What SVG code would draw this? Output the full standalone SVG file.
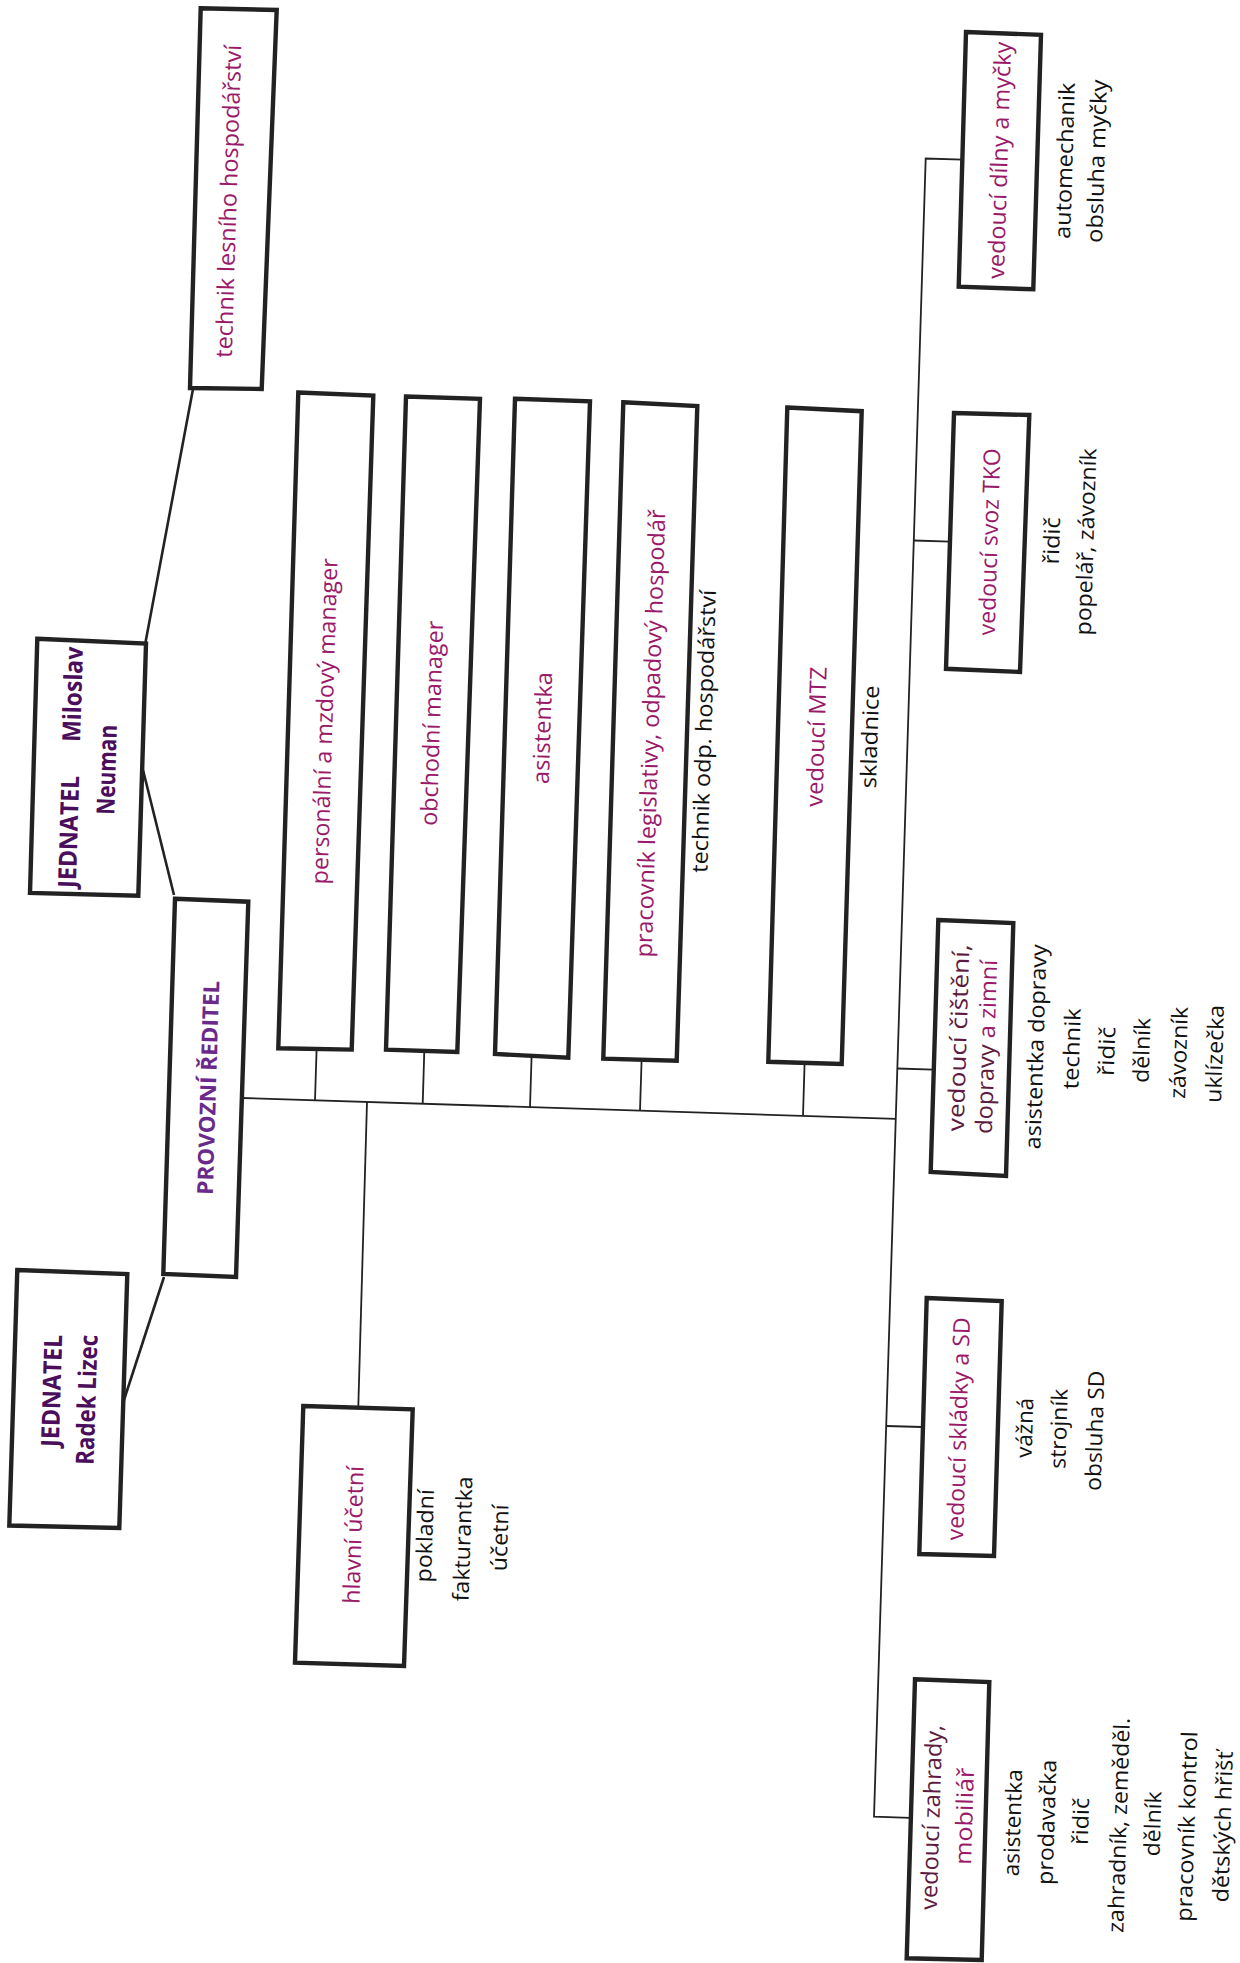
<svg xmlns="http://www.w3.org/2000/svg" width="1240" height="1963" viewBox="0 0 1240 1963">
<style>
.box{fill:#fff;stroke:#222;stroke-width:4.4;stroke-linejoin:miter}
.c{fill:none;stroke:#222;stroke-width:1.8}
.ct{fill:none;stroke:#222;stroke-width:2.6}
text{font-family:"Open Sans","Noto Sans","DejaVu Sans",sans-serif;text-anchor:middle}
.m{fill:#9a1a6a;font-size:23px}
.d{fill:#5e1b40}
.k{fill:#111;font-size:22px}
.j{fill:#4a0e5c;font-size:25px;font-weight:bold}
.p{fill:#6a2a8c;font-size:22px;font-weight:bold}
</style>
<rect x="0" y="0" width="1240" height="1963" fill="#fff"/>
<g id="connectors">
<line class="ct" x1="145" y1="645" x2="193" y2="389"/>
<line class="ct" x1="143" y1="770" x2="174" y2="895"/>
<line class="ct" x1="164" y1="1277" x2="123" y2="1403"/>
<line class="c" x1="242" y1="1098" x2="896" y2="1118.8"/>
<polyline class="c" points="963,159.6 925.7,158.5 874,1816.7 910,1817.8"/>
<line class="c" x1="913.8" y1="540.5" x2="950" y2="541.6"/>
<line class="c" x1="897.3" y1="1068.5" x2="933.3" y2="1069.6"/>
<line class="c" x1="886.2" y1="1426" x2="922" y2="1427"/>
<line class="c" x1="315" y1="1100.3" x2="316.6" y2="1049.2"/>
<line class="c" x1="422.7" y1="1103.7" x2="424.3" y2="1051"/>
<line class="c" x1="530" y1="1107.2" x2="531.6" y2="1056"/>
<line class="c" x1="640" y1="1110.7" x2="641.6" y2="1060"/>
<line class="c" x1="803" y1="1115.8" x2="804.6" y2="1063"/>
<line class="c" x1="367" y1="1102" x2="358.3" y2="1406.5"/>
</g>
<g id="n-technik-lesniho">
<polygon class="box" points="200.7,8.3 276.7,10 261.7,389 190,388"/>
<text class="m" transform="translate(236.5,201.5) rotate(-88.25)" textLength="313" lengthAdjust="spacingAndGlyphs">technik lesního hospodářství</text>
</g>
<g id="n-jednatel-neuman">
<polygon class="box" points="37.3,638.8 146,643.5 138.3,895.8 30,892.9"/>
<text class="j" transform="translate(77.5,832) rotate(-88.25)" textLength="112" lengthAdjust="spacingAndGlyphs">JEDNATEL</text>
<text class="j" transform="translate(81.5,694.5) rotate(-88.25)" textLength="95" lengthAdjust="spacingAndGlyphs">Miloslav</text>
<text class="j" transform="translate(115.5,770) rotate(-88.25)" textLength="90" lengthAdjust="spacingAndGlyphs">Neuman</text>
</g>
<g id="n-provozni">
<polygon class="box" points="175,898.8 248.3,901.7 236,1277 163.3,1274"/>
<text class="p" transform="translate(216,1088) rotate(-88.25)" textLength="214" lengthAdjust="spacingAndGlyphs">PROVOZNÍ ŘEDITEL</text>
</g>
<g id="n-jednatel-lizec">
<polygon class="box" points="17.3,1270 127.3,1274 119.3,1528 9.3,1525.5"/>
<text class="j" transform="translate(60.5,1391) rotate(-88.25)" textLength="112" lengthAdjust="spacingAndGlyphs">JEDNATEL</text>
<text class="j" transform="translate(95.5,1400) rotate(-88.25)" textLength="130" lengthAdjust="spacingAndGlyphs">Radek Lizec</text>
</g>
<g id="n-personalni">
<polygon class="box" points="298.3,392.5 373.3,395.6 351.7,1049.6 278.3,1048.3"/>
<text class="m" transform="translate(332.5,721.5) rotate(-88.25)" textLength="326" lengthAdjust="spacingAndGlyphs">personální a mzdový manager</text>
</g>
<g id="n-obchodni">
<polygon class="box" points="406,396.5 480,398.8 457.3,1052 386,1049.6"/>
<text class="m" transform="translate(440,723.5) rotate(-88.25)" textLength="205" lengthAdjust="spacingAndGlyphs">obchodní manager</text>
</g>
<g id="n-asistentka">
<polygon class="box" points="515,398.8 590,401.4 568.3,1057.7 495,1054"/>
<text class="m" transform="translate(550.5,728.2) rotate(-88.25)" textLength="112" lengthAdjust="spacingAndGlyphs">asistentka</text>
</g>
<g id="n-pracovnik-legislativy">
<polygon class="box" points="623.3,402.3 697.3,406 676.7,1060.8 603.3,1058.6"/>
<text class="m" transform="translate(658.5,733.7) rotate(-88.25)" textLength="448" lengthAdjust="spacingAndGlyphs">pracovník legislativy, odpadový hospodář</text>
<text class="k" transform="translate(711.5,731.5) rotate(-88.25)" textLength="283" lengthAdjust="spacingAndGlyphs">technik odp. hospodářství</text>
</g>
<g id="n-mtz">
<polygon class="box" points="787.3,407.5 861.7,411.2 841.7,1064 768.3,1061.8"/>
<text class="m" transform="translate(824.5,737) rotate(-88.25)" textLength="140" lengthAdjust="spacingAndGlyphs">vedoucí MTZ</text>
<text class="k" transform="translate(877.5,737) rotate(-88.25)" textLength="103" lengthAdjust="spacingAndGlyphs">skladnice</text>
</g>
<g id="n-hlavni-ucetni">
<polygon class="box" points="303.3,1406 412.7,1409.3 404,1666 295,1662.7"/>
<text class="m" transform="translate(361.5,1535) rotate(-88.25)" textLength="138" lengthAdjust="spacingAndGlyphs">hlavní účetní</text>
<text class="k" transform="translate(432.5,1536) rotate(-88.25)" textLength="93" lengthAdjust="spacingAndGlyphs">pokladní</text>
<text class="k" transform="translate(470.5,1539) rotate(-88.25)" textLength="125" lengthAdjust="spacingAndGlyphs">fakturantka</text>
<text class="k" transform="translate(507.5,1538) rotate(-88.25)" textLength="67" lengthAdjust="spacingAndGlyphs">účetní</text>
</g>
<g id="n-dilny">
<polygon class="box" points="966,32 1041,34.8 1033.3,289.3 958.7,286.6"/>
<text class="m" transform="translate(1007.5,160.5) rotate(-88.25)" textLength="237" lengthAdjust="spacingAndGlyphs">vedoucí dílny a myčky</text>
<text class="k" transform="translate(1072.5,161) rotate(-88.25)" textLength="156" lengthAdjust="spacingAndGlyphs">automechanik</text>
<text class="k" transform="translate(1104.5,161.5) rotate(-88.25)" textLength="163" lengthAdjust="spacingAndGlyphs">obsluha myčky</text>
</g>
<g id="n-svoz-tko">
<polygon class="box" points="954,413 1029.3,415 1020,672 946,668.8"/>
<text class="m" transform="translate(997.5,542) rotate(-88.25)" textLength="187" lengthAdjust="spacingAndGlyphs">vedoucí svoz TKO</text>
<text class="k" transform="translate(1059.5,541) rotate(-88.25)" textLength="47" lengthAdjust="spacingAndGlyphs">řidič</text>
<text class="k" transform="translate(1093.5,542) rotate(-88.25)" textLength="187" lengthAdjust="spacingAndGlyphs">popelář, závozník</text>
</g>
<g id="n-cisteni">
<polygon class="box" points="938.3,920 1013.3,923 1006,1176 930.7,1172"/>
<text class="m d" transform="translate(966.5,1038) rotate(-88.25)" textLength="187" lengthAdjust="spacingAndGlyphs">vedoucí čištění,</text>
<text class="m" transform="translate(994.5,1047) rotate(-88.25)" textLength="174" lengthAdjust="spacingAndGlyphs"><tspan class="d">dopravy </tspan>a zimní</text>
<text class="k" transform="translate(1043.5,1047) rotate(-88.25)" textLength="205" lengthAdjust="spacingAndGlyphs">asistentka dopravy</text>
<text class="k" transform="translate(1079.5,1049) rotate(-88.25)" textLength="81" lengthAdjust="spacingAndGlyphs">technik</text>
<text class="k" transform="translate(1114.5,1051.5) rotate(-88.25)" textLength="49" lengthAdjust="spacingAndGlyphs">řidič</text>
<text class="k" transform="translate(1149.5,1050.5) rotate(-88.25)" textLength="65" lengthAdjust="spacingAndGlyphs">dělník</text>
<text class="k" transform="translate(1186.5,1053) rotate(-88.25)" textLength="92" lengthAdjust="spacingAndGlyphs">závozník</text>
<text class="k" transform="translate(1222.5,1054) rotate(-88.25)" textLength="98" lengthAdjust="spacingAndGlyphs">uklízečka</text>
</g>
<g id="n-skladky">
<polygon class="box" points="926.7,1298 1001.7,1301 994,1556 919.3,1554"/>
<text class="m" transform="translate(966.5,1429) rotate(-88.25)" textLength="223" lengthAdjust="spacingAndGlyphs">vedoucí skládky a SD</text>
<text class="k" transform="translate(1032.5,1428) rotate(-88.25)" textLength="60" lengthAdjust="spacingAndGlyphs">vážná</text>
<text class="k" transform="translate(1066.5,1429) rotate(-88.25)" textLength="80" lengthAdjust="spacingAndGlyphs">strojník</text>
<text class="k" transform="translate(1102.5,1431) rotate(-88.25)" textLength="120" lengthAdjust="spacingAndGlyphs">obsluha SD</text>
</g>
<g id="n-zahrady">
<polygon class="box" points="915,1679.3 989.3,1682 981.7,1960 906.7,1958.3"/>
<text class="m d" transform="translate(939.5,1817.5) rotate(-88.25)" textLength="185" lengthAdjust="spacingAndGlyphs">vedoucí zahrady,</text>
<text class="m" transform="translate(972.5,1816.5) rotate(-88.25)" textLength="97" lengthAdjust="spacingAndGlyphs">mobiliář</text>
<text class="k" transform="translate(1020.5,1823) rotate(-88.25)" textLength="107" lengthAdjust="spacingAndGlyphs">asistentka</text>
<text class="k" transform="translate(1054.5,1822.5) rotate(-88.25)" textLength="125" lengthAdjust="spacingAndGlyphs">prodavačka</text>
<text class="k" transform="translate(1088.5,1821.5) rotate(-88.25)" textLength="47" lengthAdjust="spacingAndGlyphs">řidič</text>
<text class="k" transform="translate(1126.5,1825.5) rotate(-88.25)" textLength="215" lengthAdjust="spacingAndGlyphs">zahradník, zeměděl.</text>
<text class="k" transform="translate(1160.5,1824) rotate(-88.25)" textLength="65" lengthAdjust="spacingAndGlyphs">dělník</text>
<text class="k" transform="translate(1194.5,1826.7) rotate(-88.25)" textLength="190" lengthAdjust="spacingAndGlyphs">pracovník kontrol</text>
<text class="k" transform="translate(1230.5,1827) rotate(-88.25)" textLength="151" lengthAdjust="spacingAndGlyphs">dětských hřišť</text>
</g>
</svg>
